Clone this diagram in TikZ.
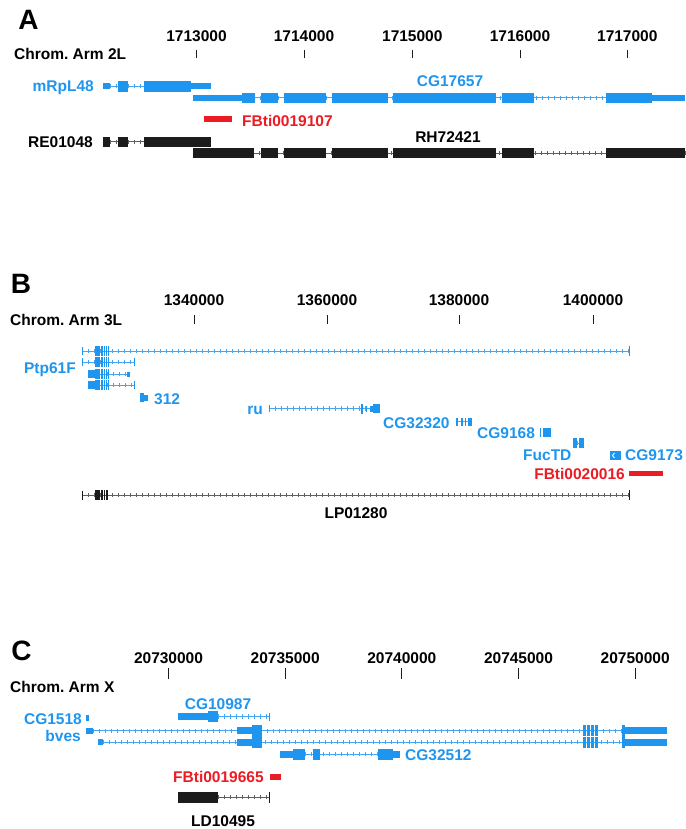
\documentclass[tikz,border=0pt]{standalone}
\usepackage{fontspec}
\setmainfont{Liberation Sans}
\usetikzlibrary{decorations.markings}
\definecolor{gblue}{RGB}{30,150,240}
\definecolor{glblue}{RGB}{70,165,240}
\definecolor{gred}{RGB}{235,28,36}
\definecolor{gblack}{RGB}{28,28,28}
\definecolor{ggrey}{RGB}{95,95,95}
\tikzset{
  lab/.style={font=\fontsize{15.5}{18}\selectfont\bfseries\frenchspacing, inner sep=0pt},
  panel/.style={font=\fontsize{28}{32}\selectfont\bfseries, inner sep=0pt, anchor=base},
  tickline/.style={draw=gblack, line width=0.9},
  intronB/.style={draw=glblue, line width=0.8, postaction={decorate},
    decoration={markings, mark=between positions 0 and 1 step 6pt with {\draw[glblue, line width=0.75] (0,-2.1pt) -- (0,2.1pt);}}},
  intronK/.style={draw=ggrey, line width=0.8, postaction={decorate},
    decoration={markings, mark=between positions 0 and 1 step 6pt with {\draw[ggrey, line width=0.75] (0,-2.1pt) -- (0,2.1pt);}}},
}
% exon: colour, y, half height, x1, x2
\newcommand\gex[5]{\fill[#1] (#4,{#2-#3}) rectangle (#5,{#2+#3});}
% intron: style, y, x1, x2
\newcommand\gin[4]{\draw[#1] (#3,#2) -- (#4,#2);}
% end tick: colour, y, x, half height
\newcommand\gend[4]{\draw[#1, line width=1] (#3,{#2-#4}) -- (#3,{#2+#4});}
\begin{document}
\begin{tikzpicture}[x=1pt,y=-1pt]
\useasboundingbox (0,0) rectangle (685,829);
\fill[white] (0,0) rectangle (685,829);

% ================= Panel A =================
\node[panel] (pA) at (28.5,30) {A};
\foreach \x/\l [count=\i] in {196.5/1713000,304/1714000,412.3/1715000,520/1716000,627.3/1717000}{
  \node[lab, anchor=base] (ta\i) at (\x,42) {\l};
  \draw[tickline] (\x,50) -- (\x,58);
}
\node[lab, anchor=base west] (chrA) at (14,60) {Chrom. Arm 2L};

% mRpL48
\node[lab, anchor=base east, text=gblue] (mrpl) at (94,91.5) {mRpL48};
\gin{intronB}{86.3}{110}{118}
\gin{intronB}{86.3}{128}{144}
\gex{gblue}{86.3}{3}{103}{110}
\gex{gblue}{86.3}{5.5}{118}{128}
\gex{gblue}{86.3}{5.5}{144}{191}
\gex{gblue}{86.3}{3}{191}{211}

% CG17657
\node[lab, anchor=base, text=gblue] (cg17657) at (450,87) {CG17657};
\gin{intronB}{97.7}{242}{685}
\gex{gblue}{97.7}{3}{193}{242}
\gex{gblue}{97.7}{5}{242}{255}
\gex{gblue}{97.7}{5}{261}{278}
\gex{gblue}{97.7}{5}{284}{326}
\gex{gblue}{97.7}{5}{332}{387.7}
\gex{gblue}{97.7}{5}{393.3}{496}
\gex{gblue}{97.7}{5}{502}{534.3}
\gex{gblue}{97.7}{5}{606}{652.3}
\gex{gblue}{97.7}{3}{652.3}{685}

% FBti0019107
\fill[gred] (204,116) rectangle (232,122);
\node[lab, anchor=base west, text=gred] (fbA) at (242,126.5) {FBti0019107};

% RE01048
\node[lab, anchor=base east] (re) at (93,147.3) {RE01048};
\gin{intronK}{141.7}{110}{144}
\gex{gblack}{141.7}{5}{103}{110}
\gex{gblack}{141.7}{5}{118}{128}
\gex{gblack}{141.7}{5}{144}{211}

% RH72421
\node[lab, anchor=base] (rh) at (448,142.5) {RH72421};
\gin{intronK}{153.3}{193}{685}
\gex{gblack}{153.3}{5}{193}{254}
\gex{gblack}{153.3}{5}{261}{278}
\gex{gblack}{153.3}{5}{284}{326}
\gex{gblack}{153.3}{5}{332}{387.7}
\gex{gblack}{153.3}{5}{393.3}{496}
\gex{gblack}{153.3}{5}{502}{534.3}
\gex{gblack}{153.3}{5}{606}{685}

% ================= Panel B =================
\node[panel] (pB) at (21,293.3) {B};
\foreach \x/\l [count=\i] in {194/1340000,327/1360000,459/1380000,593/1400000}{
  \node[lab, anchor=base] (tb\i) at (\x,305.5) {\l};
  \draw[tickline] (\x,315) -- (\x,324);
}
\node[lab, anchor=base west] (chrB) at (10,325) {Chrom. Arm 3L};

% Ptp61F
\node[lab, anchor=base east, text=gblue] (ptp) at (76,373.5) {Ptp61F};
% row 1
\gin{intronB}{351}{82}{629}
\gend{gblue}{351}{82}{4}
\gend{gblue}{351}{629}{5}
% row 2
\gin{intronB}{362}{82}{134}
\gend{gblue}{362}{82}{4}
\gend{gblue}{362}{134}{4}
% row 3
\gin{intronB}{374}{95}{129}
\gex{gblue}{374}{3.8}{88}{95}
\gex{gblue}{374}{2.5}{127}{129.5}
% row 4
\gin{intronB}{385}{95}{134}
\gex{gblue}{385}{3.8}{88}{95}
\gend{gblue}{385}{134}{4}
\foreach \yy in {351,362,374,385}{
  \gex{gblue}{\yy}{5}{94.5}{100}
  \gex{gblue}{\yy}{5}{101.3}{102.7}
  \gex{gblue}{\yy}{5}{103.5}{104.9}
  \gex{gblue}{\yy}{5}{105.7}{107.1}
  \gex{gblue}{\yy}{5}{107.8}{109.2}
}

% 312
\gex{gblue}{397.5}{4.5}{140}{144}
\gex{gblue}{397.5}{3}{144}{148}
\node[lab, anchor=base west, text=gblue] (g312) at (154,404) {312};

% ru
\node[lab, anchor=base east, text=gblue] (ru) at (263,414) {ru};
\gin{intronB}{408.5}{269}{373}
\gend{gblue}{408.5}{269}{3.5}
\gex{gblue}{408.5}{5}{361.2}{362.6}
\gex{gblue}{408.5}{3}{365.5}{366.7}
\gex{gblue}{408.5}{3}{370}{373}
\gex{gblue}{408.5}{4.5}{373}{380}

% CG32320
\node[lab, anchor=base west, text=gblue] (cg32320) at (383,428.3) {CG32320};
\gin{intronB}{421.5}{456}{471}
\gex{gblue}{421.5}{4}{456}{457.5}
\gex{gblue}{421.5}{4}{461}{462.5}
\gex{gblue}{421.5}{4}{464.5}{466}
\gex{gblue}{421.5}{4}{468}{471.5}

% CG9168
\node[lab, anchor=base west, text=gblue] (cg9168) at (477,438) {CG9168};
\gex{gblue}{432.3}{4.5}{539.5}{540.7}
\gex{gblue}{432.3}{4.5}{542.5}{551}

% FucTD
\node[lab, anchor=base west, text=gblue] (fuctd) at (523,460) {FucTD};
\gin{intronB}{443.3}{577}{579}
\gex{gblue}{443.3}{5}{573}{577}
\gex{gblue}{443.3}{5}{579}{584}

% CG9173
\node[lab, anchor=base west, text=gblue] (cg9173) at (625,460) {CG9173};
\gex{gblue}{455.5}{4.5}{610}{621}
\draw[white, line width=0.9] (614.5,453) -- (612.5,455.5) -- (614.5,458);

% FBti0020016
\node[lab, anchor=base east, text=gred] (fbB) at (625,479) {FBti0020016};
\fill[gred] (629,470.8) rectangle (663,475.8);

% LP01280
\gin{intronK}{495}{82}{629}
\gend{gblack}{495}{82}{4.5}
\gend{gblack}{495}{629}{5}
\gex{gblack}{495}{4.8}{95}{99.5}
\gex{gblack}{495}{4.8}{101.4}{102.6}
\gex{gblack}{495}{4.8}{103.8}{105}
\gex{gblack}{495}{4.8}{106.4}{107.6}
\node[lab, anchor=base] (lp) at (356,518) {LP01280};

% ================= Panel C =================
\node[panel] (pC) at (21.5,660) {C};
\foreach \x/\l [count=\i] in {168.5/20730000,285.2/20735000,401.8/20740000,518.5/20745000,635.2/20750000}{
  \node[lab, anchor=base] (tc\i) at (\x,663.3) {\l};
  \draw[tickline] (\x,668) -- (\x,679);
}
\node[lab, anchor=base west] (chrC) at (10,692.7) {Chrom. Arm X};

% CG10987
\node[lab, anchor=base, text=gblue] (cg10987) at (218,709) {CG10987};
\gin{intronB}{716.5}{218}{269}
\gex{gblue}{716.5}{3.5}{178}{208}
\gex{gblue}{716.5}{5.5}{208}{218}
\gend{gblue}{716.5}{269}{4}

% CG1518
\node[lab, anchor=base east, text=gblue] (cg1518) at (82,724) {CG1518};
\gex{gblue}{718}{3}{86}{89}

% bves
\node[lab, anchor=base east, text=gblue] (bves) at (81,741.5) {bves};
\gin{intronB}{730.8}{93}{622}
\gex{gblue}{730.8}{3}{86}{93}
\gin{intronB}{742.2}{103}{622}
\gex{gblue}{742.2}{3}{98}{103}
\foreach \yy in {730.8,742.2}{
  \gex{gblue}{\yy}{3.4}{237}{252}
  \gex{gblue}{\yy}{5.8}{252}{262}
  \gex{gblue}{\yy}{5.5}{583}{585.5}
  \gex{gblue}{\yy}{5.5}{587}{589.5}
  \gex{gblue}{\yy}{5.5}{591}{593.5}
  \gex{gblue}{\yy}{5.5}{595}{597.5}
  \gex{gblue}{\yy}{5.8}{621.5}{625}
  \gex{gblue}{\yy}{3.5}{625}{667}
}

% CG32512
\gin{intronB}{754}{305}{378}
\gex{gblue}{754}{3.5}{280}{293}
\gex{gblue}{754}{5.5}{293}{305}
\gex{gblue}{754}{5.5}{313}{320}
\gex{gblue}{754}{5.5}{378}{393}
\gex{gblue}{754}{3.5}{393}{400}
\node[lab, anchor=base west, text=gblue] (cg32512) at (405,760) {CG32512};

% FBti0019665
\node[lab, anchor=base west, text=gred] (fbC) at (173,782) {FBti0019665};
\fill[gred] (270,774) rectangle (281,780);

% LD10495
\gin{intronK}{797}{218}{269}
\gex{gblack}{797}{5.5}{178}{218}
\gend{gblack}{797}{269}{5.5}
\node[lab, anchor=base] (ld) at (223,826.5) {LD10495};
\end{tikzpicture}
\end{document}
